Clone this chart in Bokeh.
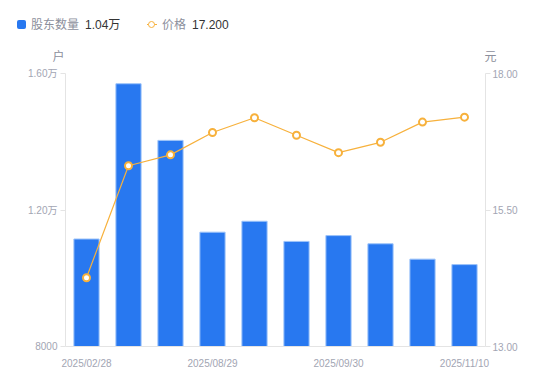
from bokeh.plotting import figure
from bokeh.layouts import column
from bokeh.models import (Range1d, LinearAxis, FixedTicker, ColumnDataSource, FactorRange,
                          CustomJSTickFormatter, Div)
from bokeh.embed import file_html
from bokeh.resources import INLINE

dates = ["2025/02/28", "2025/03/31", "2025/06/30", "2025/08/29", "2025/09/10",
         "2025/09/19", "2025/09/30", "2025/10/20", "2025/10/31", "2025/11/10"]
holders = [11150, 15700, 14040, 11350, 11670, 11080, 11250, 11010, 10560, 10400]
prices = [14.26, 16.31, 16.51, 16.92, 17.19, 16.87, 16.55, 16.74, 17.11, 17.20]
shown_dates = ["2025/02/28", "2025/08/29", "2025/09/30", "2025/11/10"]
left_ticks = [8000, 12000, 16000]
left_tick_labels = ["8000", "1.20万", "1.60万"]
right_ticks = [13.0, 15.5, 18.0]
right_tick_labels = ["13.00", "15.50", "18.00"]
legend_names = ["股东数量", "价格"]
legend_values = ["1.04万", "17.200"]
units = ["户", "元"]

FONT = "Liberation Sans, Noto Sans CJK SC"
CSS_FONT = "'Liberation Sans', 'Noto Sans CJK SC', sans-serif"
TICK_COLOR = "#a2a5b3"
LABEL_COLOR = "#8c8f9c"
AXIS_COLOR = "#e4e4e4"
BAR_COLOR = "#2878f0"
LINE_COLOR = "#f7b13c"

# ---------- header (legend + axis units) as HTML ----------
W, HH = 550, 65


def txt(left, top, s, color, align="left"):
    if align == "center":
        return (f'<span style="position:absolute;left:{left - 20}px;top:{top}px;width:40px;'
                f'text-align:center;line-height:12px;color:{color};white-space:nowrap">{s}</span>')
    return (f'<span style="position:absolute;left:{left}px;top:{top}px;line-height:12px;'
            f'color:{color};white-space:nowrap">{s}</span>')


html = (f'<div style="position:relative;width:{W}px;height:{HH}px;font-family:{CSS_FONT};'
        f'font-size:12px;background:white;overflow:hidden">')
html += (f'<div style="position:absolute;left:17px;top:20px;width:9px;height:9px;'
         f'border-radius:2px;background:{BAR_COLOR}"></div>')
html += txt(31, 18.5, legend_names[0], LABEL_COLOR)
html += txt(85, 18.5, legend_values[0], "#333333")
html += (f'<div style="position:absolute;left:146.5px;top:23.8px;width:10px;height:1.5px;'
         f'background:{LINE_COLOR}"></div>')
html += (f'<div style="position:absolute;left:148px;top:21px;width:7px;height:7px;'
         f'box-sizing:border-box;border:1.7px solid {LINE_COLOR};border-radius:50%;'
         f'background:white"></div>')
html += txt(162, 18.5, legend_names[1], LABEL_COLOR)
html += txt(192, 18.5, legend_values[1], "#333333")
html += txt(58.5, 51, units[0], LABEL_COLOR, align="center")
html += txt(490.5, 51, units[1], LABEL_COLOR, align="center")
html += '</div>'

header = Div(text=html, width=W, height=HH, margin=0)

# ---------- main chart ----------
src = ColumnDataSource(dict(d=dates, h=holders, p=prices, b=[left_ticks[0]] * len(dates)))

p = figure(width=W, height=381 - HH, x_range=FactorRange(*dates),
           y_range=Range1d(left_ticks[0], left_ticks[-1]),
           output_backend="svg", toolbar_location=None,
           min_border_left=65, min_border_right=65, min_border_top=8, min_border_bottom=35)
p.extra_y_ranges = {"price": Range1d(right_ticks[0], right_ticks[-1])}
p.outline_line_color = None
p.xgrid.visible = False
p.ygrid.visible = False

p.vbar(x="d", top="h", bottom="b", width=0.6, source=src,
       fill_color=BAR_COLOR, line_color="#9cc3f9", line_width=1)
p.line(x="d", y="p", source=src, y_range_name="price", line_color=LINE_COLOR, line_width=1.2)
p.scatter(x="d", y="p", source=src, y_range_name="price", size=7, marker="circle",
          fill_color="white", line_color=LINE_COLOR, line_width=2)

ya = p.yaxis[0]
ya.ticker = FixedTicker(ticks=left_ticks)
ya.major_label_overrides = {float(t): l for t, l in zip(left_ticks, left_tick_labels)}
ra = LinearAxis(y_range_name="price")
ra.ticker = FixedTicker(ticks=right_ticks)
ra.major_label_overrides = {float(t): l for t, l in zip(right_ticks, right_tick_labels)}
p.add_layout(ra, "right")
for ax, so in ((ya, 3), (ra, 2)):
    ax.minor_tick_line_color = None
    ax.axis_line_color = AXIS_COLOR
    ax.major_tick_line_color = AXIS_COLOR
    ax.major_tick_out = 5
    ax.major_tick_in = 0
    ax.major_label_standoff = so
    ax.major_label_text_color = TICK_COLOR
    ax.major_label_text_font = FONT
    ax.major_label_text_font_size = "10px"

xa = p.xaxis[0]
xa.formatter = CustomJSTickFormatter(args=dict(shown=shown_dates),
                                     code="return shown.includes(tick) ? tick : '';")
xa.major_tick_line_color = None
xa.axis_line_color = AXIS_COLOR
xa.major_label_standoff = 5
xa.major_label_text_color = TICK_COLOR
xa.major_label_text_font = FONT
xa.major_label_text_font_size = "10px"

layout = column(header, p, spacing=0)
open("out.html", "w").write(file_html(layout, INLINE))
